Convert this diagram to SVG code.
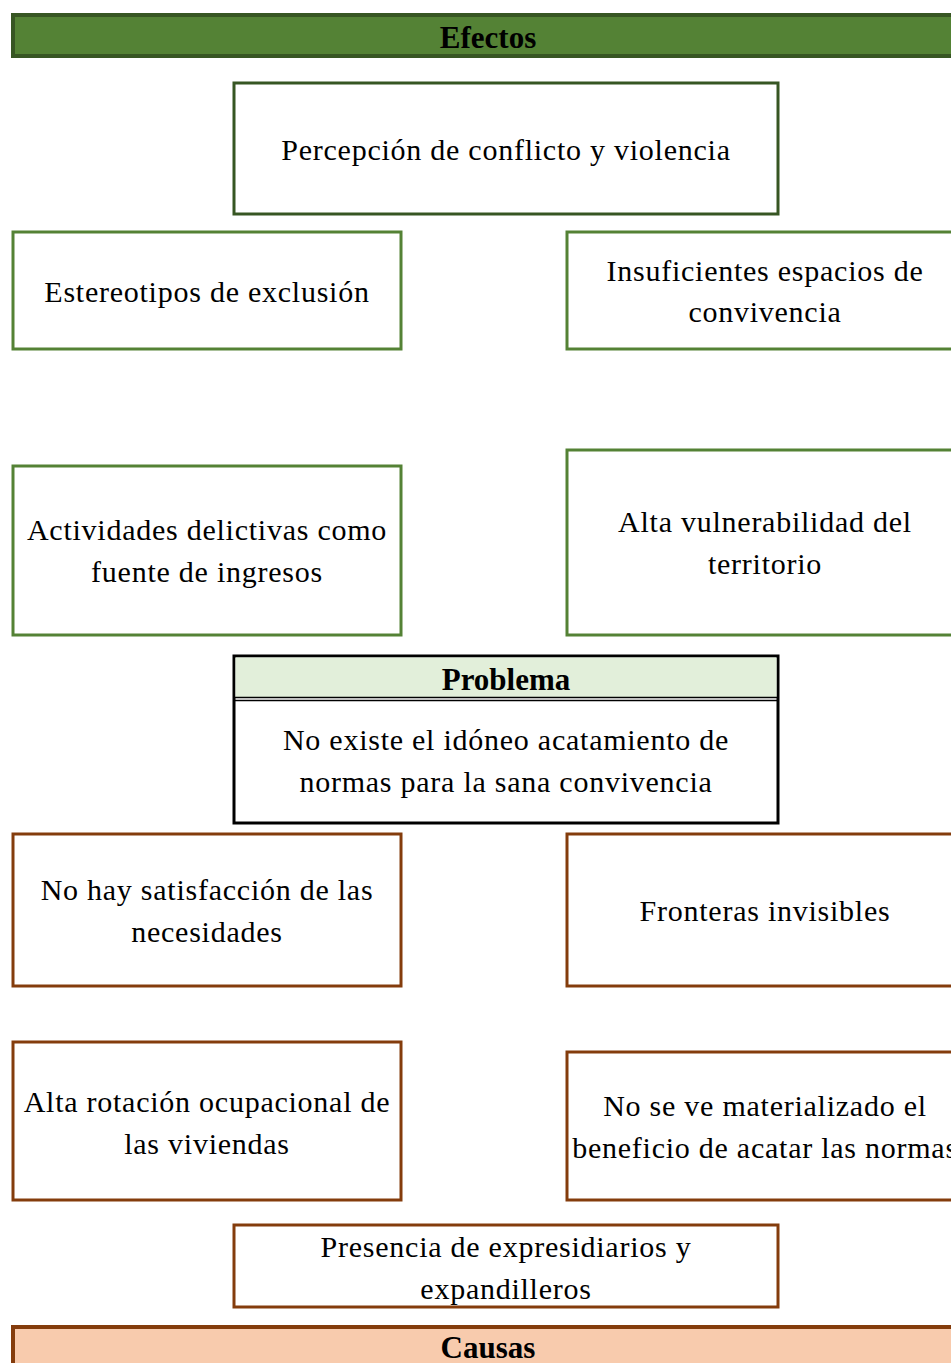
<svg xmlns="http://www.w3.org/2000/svg" width="951" height="1363" viewBox="0 0 951 1363">
<style>
text{font-family:"Liberation Serif","Times New Roman",serif;font-size:30px;letter-spacing:0.75px;fill:#000;text-anchor:middle}
.t{font-weight:bold;font-size:31px;letter-spacing:0}
.g{fill:#fff;stroke:#548235;stroke-width:3}
.dg{fill:#fff;stroke:#375623;stroke-width:3}
.b{fill:#fff;stroke:#843C0C;stroke-width:3}
</style>
<rect width="951" height="1363" fill="#fff"/>
<g id="efectos">
<rect x="13" y="15" width="960" height="41" fill="#548235" stroke="#375623" stroke-width="4"/>
<text class="t" x="488" y="48">Efectos</text>
</g>
<g id="percepcion">
<rect class="dg" x="234" y="83" width="544" height="131"/>
<text x="506" y="160">Percepción de conflicto y violencia</text>
</g>
<g id="estereotipos">
<rect class="g" x="13" y="232" width="388" height="117"/>
<text x="207" y="302">Estereotipos de exclusión</text>
</g>
<g id="insuficientes">
<rect class="g" x="567" y="232" width="400" height="117"/>
<text x="765" y="281">Insuficientes espacios de</text>
<text x="765" y="322">convivencia</text>
</g>
<g id="actividades">
<rect class="g" x="13" y="466" width="388" height="169"/>
<text x="207" y="540">Actividades delictivas como</text>
<text x="207" y="582">fuente de ingresos</text>
</g>
<g id="vulnerabilidad">
<rect class="g" x="567" y="450" width="400" height="185"/>
<text x="765" y="532">Alta vulnerabilidad del</text>
<text x="765" y="574">territorio</text>
</g>
<g id="problema">
<rect x="234" y="656" width="544" height="167" fill="#fff" stroke="#000" stroke-width="3"/>
<rect x="235.5" y="657.5" width="541" height="40" fill="#E2EFDA"/>
<line x1="235" y1="697.5" x2="777" y2="697.5" stroke="#000" stroke-width="1.5"/>
<line x1="235" y1="700.5" x2="777" y2="700.5" stroke="#000" stroke-width="1.5"/>
<text class="t" x="506" y="690">Problema</text>
<text x="506" y="750">No existe el idóneo acatamiento de</text>
<text x="506" y="792">normas para la sana convivencia</text>
</g>
<g id="satisfaccion">
<rect class="b" x="13" y="834" width="388" height="152"/>
<text x="207" y="900">No hay satisfacción de las</text>
<text x="207" y="942">necesidades</text>
</g>
<g id="fronteras">
<rect class="b" x="567" y="834" width="400" height="152"/>
<text x="765" y="921">Fronteras invisibles</text>
</g>
<g id="rotacion">
<rect class="b" x="13" y="1042" width="388" height="158"/>
<text x="207" y="1112">Alta rotación ocupacional de</text>
<text x="207" y="1154">las viviendas</text>
</g>
<g id="beneficio">
<rect class="b" x="567" y="1052" width="400" height="148"/>
<text x="765" y="1116">No se ve materializado el</text>
<text x="765" y="1158">beneficio de acatar las normas</text>
</g>
<g id="presencia">
<rect class="b" x="234" y="1225" width="544" height="82"/>
<text x="506" y="1257">Presencia de expresidiarios y</text>
<text x="506" y="1299">expandilleros</text>
</g>
<g id="causas">
<rect x="13" y="1327" width="960" height="50" fill="#F8CBAD" stroke="#843C0C" stroke-width="4"/>
<text class="t" x="488" y="1358">Causas</text>
</g>
<g id="connectors"/>
</svg>
